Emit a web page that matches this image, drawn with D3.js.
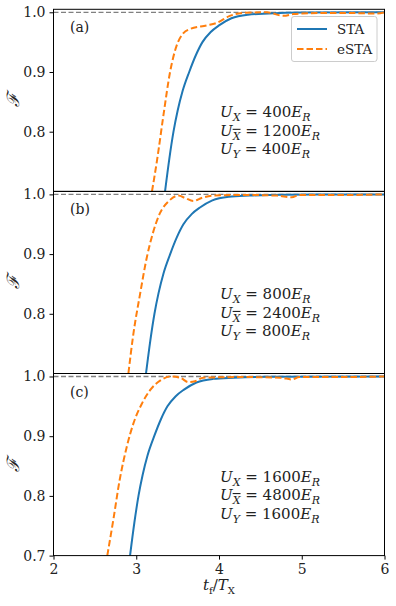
<!DOCTYPE html>
<html>
<head>
<meta charset="utf-8">
<script src="https://cdn.jsdelivr.net/npm/d3@7"></script>
<style>
  body { margin: 0; background: #fff; }
  svg { display: block; }
  svg text { font-family: 'DejaVu Serif', 'Liberation Serif', serif; }
  .axis path, .axis line { stroke: #000; }
</style>
</head>
<body>
<svg id="svg1" width="396" height="606"></svg>
<script>
// values: [t_f/T_X, fidelity]
const staA = [[3.348,0.70],[3.40,0.755],[3.45,0.80],[3.50,0.835],[3.56,0.868],[3.64,0.90],[3.72,0.928],[3.80,0.95],[3.90,0.967],[4.00,0.978],[4.15,0.99],[4.35,0.996],[4.6,0.998],[5.0,0.9995],[6,1.0]];
const estaA = [[3.19,0.70],[3.25,0.751],[3.33,0.829],[3.41,0.901],[3.49,0.945],[3.57,0.965],[3.65,0.972],[3.85,0.978],[3.97,0.982],[4.13,0.994],[4.30,0.999],[4.58,1.0],[4.78,0.994],[4.9,0.997],[5.0,0.998],[5.5,0.999],[5.9,0.998],[6.0,1.0]];
const staB = [[3.118,0.70],[3.17,0.755],[3.22,0.80],[3.27,0.835],[3.33,0.868],[3.41,0.90],[3.49,0.928],[3.57,0.95],[3.67,0.967],[3.77,0.978],[3.92,0.99],[4.12,0.996],[4.37,0.998],[4.77,0.9995],[6,1.0]];
const estaB = [[2.905,0.70],[2.965,0.766],[3.046,0.833],[3.127,0.894],[3.207,0.938],[3.288,0.969],[3.388,0.988],[3.51,0.998],[3.59,0.994],[3.69,0.989],[3.79,0.994],[3.93,0.998],[4.3,0.999],[4.7,0.998],[4.88,0.995],[4.97,0.999],[5.5,0.999],[6,1.0]];
const staC = [[2.925,0.70],[2.977,0.755],[3.027,0.80],[3.077,0.835],[3.137,0.868],[3.217,0.90],[3.297,0.928],[3.377,0.95],[3.477,0.967],[3.577,0.978],[3.727,0.99],[3.927,0.996],[4.177,0.998],[4.577,0.9995],[6,1.0]];
const estaC = [[2.65,0.70],[2.723,0.76],[2.80,0.827],[2.885,0.882],[2.965,0.921],[3.066,0.954],[3.167,0.977],[3.288,0.993],[3.41,1.0],[3.53,0.998],[3.63,0.9905],[3.71,0.992],[3.81,0.998],[4.3,0.999],[4.75,0.998],[4.88,0.995],[4.97,0.999],[5.5,0.999],[6,1.0]];

const panelLabels = ['(a)', '(b)', '(c)'];
const uX = ['400', '800', '1600'];
const uXbar = ['1200', '2400', '4800'];
const uY = ['400', '800', '1600'];
const xTicks = [2, 3, 4, 5, 6];
const yTicks = [0.8, 0.9, 1.0];
const yTicksBottom = [0.7, 0.8, 0.9, 1.0];
const legendNames = ['STA', 'eSTA'];

const blue = '#1f77b4', orange = '#ff7f0e';
const serif = "'DejaVu Serif', 'Liberation Serif', serif";

const svg = d3.select('#svg1').attr('font-family', serif);
const left = 53.5, right = 384.5, plotTop = 9.3, panelH = 182.1;

const x = d3.scaleLinear().domain([2, 6]).range([left, right]);

const line = d3.line().curve(d3.curveMonotoneX);

const panels = [
  {sta: staA, esta: estaA},
  {sta: staB, esta: estaB},
  {sta: staC, esta: estaC}
];

panels.forEach((p, i) => {
  const y0 = plotTop + i * panelH;
  const y = d3.scaleLinear().domain([0.7, 1.005]).range([y0 + panelH, y0]);
  line.x(d => x(d[0])).y(d => y(d[1]));

  const g = svg.append('g');
  g.append('clipPath').attr('id', 'clip' + i)
    .append('rect').attr('x', left).attr('y', y0).attr('width', right - left).attr('height', panelH);

  const inner = g.append('g').attr('clip-path', `url(#clip${i})`);

  inner.append('line')
    .attr('x1', left).attr('x2', right).attr('y1', y(1)).attr('y2', y(1))
    .attr('stroke', '#808080').attr('stroke-width', 1.3).attr('stroke-dasharray', '5,2.5');

  inner.append('path').attr('d', line(p.sta))
    .attr('fill', 'none').attr('stroke', blue).attr('stroke-width', 2);
  inner.append('path').attr('d', line(p.esta))
    .attr('fill', 'none').attr('stroke', orange).attr('stroke-width', 2).attr('stroke-dasharray', '6.5,3');

  // y axis
  g.append('g').attr('class', 'axis')
    .attr('transform', `translate(${left},0)`)
    .call(d3.axisLeft(y).tickValues(i === 2 ? yTicksBottom : yTicks).tickFormat(d3.format('.1f')).tickSize(4).tickPadding(4).tickSizeOuter(0))
    .call(a => a.select('.domain').remove())
    .call(a => a.selectAll('text').attr('font-family', serif).attr('font-size', 14).attr('fill', '#222'));

  // frame
  g.append('rect').attr('x', left).attr('y', y0).attr('width', right - left).attr('height', panelH)
    .attr('fill', 'none').attr('stroke', '#000').attr('stroke-width', 1);

  // y label
  g.append('text')
    .attr('transform', `translate(19,${y0 + panelH / 2}) rotate(-90)`)
    .attr('text-anchor', 'middle')
    .attr('font-size', 17).attr('font-style', 'italic').attr('fill', '#222')
    .text('ℱ');

  // panel label
  g.append('text').attr('x', 70).attr('y', y0 + 23)
    .attr('font-size', 14).attr('fill', '#222')
    .text(panelLabels[i]);

  // parameter annotation
  const ann = g.append('text').attr('font-size', 15).attr('fill', '#222');
  const rows = [
    [{t: 'U', i: true}, {t: 'X', sub: true, i: true}, {t: ' = ' + uX[i]}, {t: 'E', i: true}, {t: 'R', sub: true, i: true}],
    [{t: 'U', i: true}, {t: 'X', sub: true, i: true, over: true}, {t: ' = ' + uXbar[i]}, {t: 'E', i: true}, {t: 'R', sub: true, i: true}],
    [{t: 'U', i: true}, {t: 'Y', sub: true, i: true}, {t: ' = ' + uY[i]}, {t: 'E', i: true}, {t: 'R', sub: true, i: true}]
  ];
  rows.forEach((r, k) => {
    const by = y0 + 108 + k * 18.5;
    r.forEach((s, j) => {
      const ts = ann.append('tspan').text(s.t);
      if (j === 0) ts.attr('x', 220).attr('y', by);
      if (s.i) ts.attr('font-style', 'italic');
      if (s.sub) ts.attr('font-size', 11).attr('dy', 4);
      else if (j > 0 && r[j - 1].sub) ts.attr('dy', -4);
      if (s.over) ts.style('text-decoration', 'overline');
    });
  });
});

// bottom x axis
const yBottom = plotTop + 3 * panelH;
svg.append('g').attr('class', 'axis')
  .attr('transform', `translate(0,${yBottom})`)
  .call(d3.axisBottom(x).tickValues(xTicks).tickFormat(d3.format('d')).tickSize(4).tickPadding(4).tickSizeOuter(0))
  .call(a => a.select('.domain').remove())
  .call(a => a.selectAll('text').attr('font-family', serif).attr('font-size', 14).attr('fill', '#222'));

const xl = svg.append('text').attr('x', (left + right) / 2).attr('y', 590)
  .attr('text-anchor', 'middle').attr('font-size', 15).attr('fill', '#222');
xl.append('tspan').attr('font-style', 'italic').text('t');
xl.append('tspan').attr('font-size', 10).attr('dy', 4).text('f');
xl.append('tspan').attr('dy', -4).text('/');
xl.append('tspan').attr('font-style', 'italic').text('T');
xl.append('tspan').attr('font-size', 10).attr('dy', 4).text('X');

// legend
const lg = svg.append('g');
lg.append('rect').attr('x', 291.5).attr('y', 16.5).attr('width', 85.5).attr('height', 45).attr('rx', 2.5)
  .attr('fill', 'rgba(255,255,255,0.85)').attr('stroke', '#cccccc').attr('stroke-width', 1);
legendNames.forEach((n, k) => {
  const ly = 29 + k * 20;
  lg.append('line').attr('x1', 297).attr('x2', 327).attr('y1', ly).attr('y2', ly)
    .attr('stroke', k === 0 ? blue : orange).attr('stroke-width', 2)
    .attr('stroke-dasharray', k === 0 ? null : '6.5,3');
  lg.append('text').attr('x', 337).attr('y', ly + 5).attr('font-size', 13.5).attr('fill', '#222').text(n);
});
</script>
</body>
</html>
